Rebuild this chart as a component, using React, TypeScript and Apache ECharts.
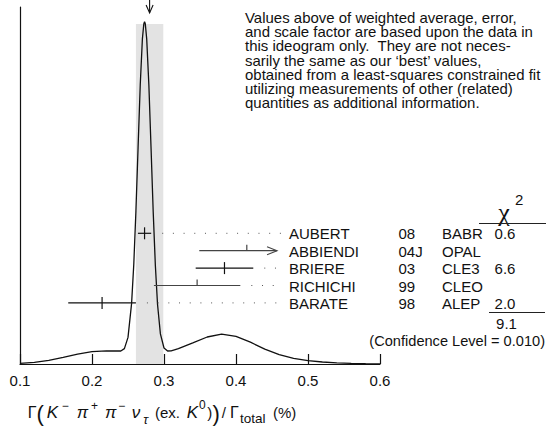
import React, { useEffect, useRef } from "react";
import * as echarts from "echarts";

// ---- data ----
const X_TICK_LABELS = ["0.1", "0.2", "0.3", "0.4", "0.5", "0.6"];

// ideogram curve (x value, height)
const CURVE_X = [
  0.1, 0.12, 0.14, 0.16, 0.18, 0.2, 0.22, 0.24, 0.245, 0.25, 0.255, 0.258, 0.261, 0.264, 0.267, 0.27,
  0.272, 0.273, 0.274, 0.276, 0.279, 0.282, 0.285, 0.288, 0.291, 0.295, 0.3, 0.305, 0.31, 0.32, 0.34,
  0.36, 0.38, 0.4, 0.42, 0.44, 0.46, 0.48, 0.5, 0.52, 0.54, 0.56, 0.58, 0.6,
];
const CURVE_Y = [
  0.7, 1.7, 3.7, 6.6, 9.9, 12.3, 13.2, 13.0, 15.4, 26.6, 60.6, 99.2, 152.9, 216.6, 279.0, 325.2,
  340.3, 342.2, 340.2, 324.9, 278.7, 216.2, 152.3, 98.5, 59.7, 30.1, 16.0, 13.0, 13.2, 15.3, 21.1,
  27.0, 29.8, 27.7, 21.8, 14.9, 9.3, 5.6, 3.4, 2.0, 1.1, 0.6, 0.3, 0.1,
];

const NAMES = ["AUBERT", "ABBIENDI", "BRIERE", "RICHICHI", "BARATE"];
const YEARS = ["08", "04J", "03", "99", "98"];
const EXPTS = ["BABR", "OPAL", "CLE3", "CLEO", "ALEP"];
const VALUES = [0.273, 0.415, 0.384, 0.346, 0.214];
const ERRORS = [0.0092, 0.066, 0.04, 0.06, 0.047];
const INCLUDED = [1, 0, 1, 0, 1];
const CHI2 = ["0.6", "", "6.6", "", "2.0"];
const CHI2_TOTAL = "9.1";
const CONF_LEVEL = "0.010";

const AVG = 0.28;
const AVG_ERR = 0.019;
const BAND_TOP = 340;
const CLIP_AT = 0.457; // error bars beyond this are cut with an arrow
const DOT_END = 0.4635;

const NOTE_LINES = [
  "Values above of weighted average, error,",
  "and scale factor are based upon the data in",
  "this ideogram only.  They are not neces-",
  "sarily the same as our \u2018best\u2019 values,",
  "obtained from a least-squares constrained fit",
  "utilizing measurements of other (related)",
  "quantities as additional information.",
];

// axis title pieces: [text, x, dy, fontSize, italic]
const TITLE_PARTS: [string, number, number, number, boolean][] = [
  ["\u0393", 27.7, 0, 16, false],
  ["(", 36.5, 1, 22, false],
  ["K", 46.7, 0, 17, true],
  ["\u2212", 61.7, -6.5, 12, false],
  ["\u03c0", 76.7, 0, 17, true],
  ["+", 91, -6.5, 12, false],
  ["\u03c0", 105, 0, 17, true],
  ["\u2212", 118.3, -6.5, 12, false],
  ["\u03bd", 131.7, 0, 17, true],
  ["\u03c4", 143.3, 7, 13, true],
  ["(ex.", 155, 0, 15, false],
  ["K", 186.7, 0, 17, true],
  ["0", 199, -7.5, 12, false],
  [")", 207.2, 0, 15, false],
  [")", 212.5, 1, 22, false],
  ["/", 221.7, 0, 15, false],
  ["\u0393", 230, 0, 16, false],
  ["total", 240, 6.5, 13.5, false],
  ["(%)", 273, 0, 15, false],
];

// ---- layout ----
const W = 552;
const H = 430;
const PLOT_L = 20;
const PLOT_R = 380;
const PLOT_TOP = 7;
const PLOT_BOTTOM = 364;
const ROW_TOP = 224.6;
const ROW_H = 17.4;
const FONT = '"Liberation Sans", Arial, Helvetica, sans-serif';
const INK = "#111";

export default function App() {
  const ref = useRef<HTMLDivElement>(null);

  useEffect(() => {
    document.body.style.margin = "0";
    if (!ref.current) return;
    const chart = echarts.init(ref.current, null, { renderer: "svg" });

    const rowY = (i: number) => ROW_TOP + ROW_H * (i + 0.5) + 0.6;

    const graphics: any[] = [];
    graphics.push({
      type: "text",
      x: 245,
      y: 11,
      scaleX: 1.07,
      style: {
        text: NOTE_LINES.join("\n"),
        fontSize: 14,
        fontFamily: FONT,
        lineHeight: 14.2,
        fill: INK,
        verticalAlign: "top",
      },
    });
    NAMES.forEach((n, i) => {
      const y = rowY(i);
      const base = { fontSize: 15, fontFamily: FONT, fill: INK, verticalAlign: "middle" };
      graphics.push({ type: "text", x: 289, y, style: { ...base, text: n } });
      graphics.push({ type: "text", x: 398.5, y, style: { ...base, text: YEARS[i] } });
      graphics.push({ type: "text", x: 442, y, style: { ...base, text: EXPTS[i] } });
      if (CHI2[i]) graphics.push({ type: "text", x: 505, y, style: { ...base, text: CHI2[i], align: "center" } });
    });
    // chi^2 header
    graphics.push({ type: "text", x: 504, y: 212, style: { text: "\u03c7", fontSize: 26, fontFamily: '"Liberation Serif", "DejaVu Serif", serif', fill: INK, align: "center", verticalAlign: "middle" } });
    graphics.push({ type: "text", x: 515, y: 191.5, style: { text: "2", fontSize: 15, fontFamily: FONT, fill: INK, verticalAlign: "top" } });
    graphics.push({ type: "line", shape: { x1: 479, y1: 223.5, x2: 546, y2: 223.5 }, style: { stroke: "#222", lineWidth: 1 } });
    graphics.push({ type: "line", shape: { x1: 489, y1: 312.5, x2: 545, y2: 312.5 }, style: { stroke: "#222", lineWidth: 1 } });
    graphics.push({ type: "text", x: 506.5, y: 323.5, style: { text: CHI2_TOTAL, fontSize: 15, fontFamily: FONT, fill: INK, align: "center", verticalAlign: "middle" } });
    graphics.push({ type: "text", x: 545, y: 340.5, style: { text: "(Confidence Level = " + CONF_LEVEL + ")", fontSize: 14.6, fontFamily: FONT, fill: INK, align: "right", verticalAlign: "middle" } });

    // axis title
    TITLE_PARTS.forEach(([t, x, dy, fs, it]) => {
      graphics.push({
        type: "text",
        x,
        y: 412 + dy,
        style: { text: t, fontSize: fs, fontFamily: FONT, fontStyle: it ? "italic" : "normal", fill: INK, verticalAlign: "middle" },
      });
    });

    const option: any = {
      animation: false,
      backgroundColor: "#fff",
      grid: [
        { left: PLOT_L, width: PLOT_R - PLOT_L, top: PLOT_TOP, height: PLOT_BOTTOM - PLOT_TOP, outerBoundsMode: "none" },
        { left: PLOT_L, width: PLOT_R - PLOT_L, top: ROW_TOP, height: ROW_H * NAMES.length, outerBoundsMode: "none" },
      ],
      xAxis: [
        {
          gridIndex: 0,
          type: "value",
          min: 0.1,
          max: 0.6,
          interval: 0.1,
          axisLine: { show: true, lineStyle: { color: INK, width: 1.2 } },
          axisTick: { show: true, inside: true, length: 10, lineStyle: { color: INK, width: 1.2 } },
          axisLabel: {
            color: INK,
            fontSize: 15,
            fontFamily: FONT,
            margin: 9,
            formatter: (v: number) => X_TICK_LABELS[Math.round((v - 0.1) * 10)] ?? "",
          },
          splitLine: { show: false },
        },
        { gridIndex: 1, type: "value", min: 0.1, max: 0.6, show: false },
      ],
      yAxis: [
        {
          gridIndex: 0,
          type: "value",
          min: 0,
          max: PLOT_BOTTOM - PLOT_TOP,
          axisLine: { show: true, lineStyle: { color: INK, width: 1.2 } },
          axisTick: { show: false },
          axisLabel: { show: false },
          splitLine: { show: false },
        },
        { gridIndex: 1, type: "category", data: NAMES, inverse: true, show: false },
      ],
      graphic: graphics,
      series: [
        {
          type: "custom",
          xAxisIndex: 0,
          yAxisIndex: 0,
          silent: true,
          z: 1,
          clip: false,
          data: [[AVG - AVG_ERR, AVG + AVG_ERR, BAND_TOP, AVG]],
          encode: { x: [0, 1, 3], y: 2 },
          renderItem: (params: any, api: any) => {
            const p1 = api.coord([api.value(0), api.value(2)]);
            const p2 = api.coord([api.value(1), 0]);
            const xa = api.coord([api.value(3), 0])[0];
            const tipY = params.coordSys.y + 6;
            return {
              type: "group",
              children: [
                { type: "rect", shape: { x: p1[0], y: p1[1], width: p2[0] - p1[0], height: p2[1] - p1[1] }, style: { fill: "#e3e3e3" } },
                { type: "line", shape: { x1: xa, y1: 0, x2: xa, y2: tipY }, style: { stroke: INK, lineWidth: 1.1 } },
                { type: "polyline", shape: { points: [[xa - 3.5, tipY - 8], [xa, tipY], [xa + 3.5, tipY - 8]] }, style: { stroke: INK, fill: "none", lineWidth: 1.1 } },
              ],
            };
          },
        },
        {
          type: "line",
          xAxisIndex: 0,
          yAxisIndex: 0,
          z: 2,
          silent: true,
          showSymbol: false,
          smooth: false,
          data: CURVE_X.map((x, i) => [x, CURVE_Y[i]]),
          lineStyle: { color: INK, width: 1.3 },
        },
        {
          type: "custom",
          xAxisIndex: 1,
          yAxisIndex: 1,
          silent: true,
          z: 3,
          clip: false,
          data: VALUES.map((v, i) => [v, v - ERRORS[i], v + ERRORS[i], i, INCLUDED[i]]),
          encode: { x: [0, 1, 2], y: 3 },
          renderItem: (params: any, api: any) => {
            const v = api.value(0);
            const lo = api.value(1);
            const hi = api.value(2);
            const row = api.value(3);
            const inc = api.value(4);
            const c = api.coord([v, row]);
            const y = c[1];
            const xv = c[0];
            const xl = api.coord([lo, row])[0];
            const clipped = hi > CLIP_AT;
            const xh = api.coord([Math.min(hi, CLIP_AT), row])[0];
            const color = inc ? INK : "#444";
            const children: any[] = [
              { type: "line", shape: { x1: xl, y1: y, x2: xh, y2: y }, style: { stroke: color, lineWidth: 1.2 } },
              { type: "line", shape: { x1: xv, y1: y - 6, x2: xv, y2: inc ? y + 6 : y }, style: { stroke: color, lineWidth: 1.2 } },
            ];
            if (clipped) {
              children.push({
                type: "polyline",
                shape: { points: [[xh - 10, y - 4], [xh, y], [xh - 10, y + 4]] },
                style: { stroke: color, fill: "none", lineWidth: 1.1 },
              });
            } else {
              const xd = api.coord([DOT_END, row])[0];
              children.push({
                type: "line",
                shape: { x1: xh + 11, y1: y, x2: xd, y2: y },
                style: { stroke: "#555", lineWidth: 1, lineDash: [1, 9.7] },
              });
            }
            return { type: "group", children };
          },
        },
      ],
    };
    chart.setOption(option);
    return () => chart.dispose();
  }, []);

  return <div ref={ref} style={{ width: W, height: H }} />;
}
